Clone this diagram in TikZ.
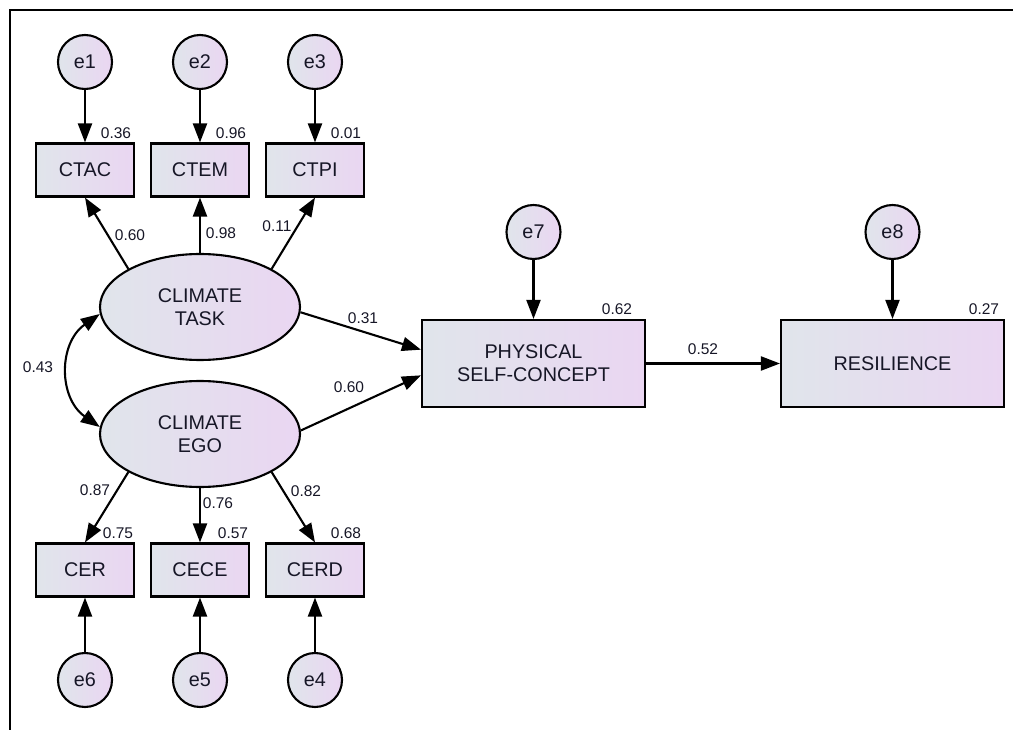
\documentclass[tikz,border=0pt]{standalone}
\usepackage{fontspec}
\setmainfont{Liberation Sans}
\usetikzlibrary{shapes.geometric,arrows.meta}
\definecolor{gL}{RGB}{224,229,235}
\definecolor{gR}{RGB}{234,214,242}
\definecolor{txt}{RGB}{22,22,38}
\begin{document}
\begin{tikzpicture}[x=1pt,y=-1pt,
  fillgrad/.style={left color=gL, right color=gR},
  nfont/.style={font=\fontsize{19.8}{23}\selectfont, text=txt},
  obs/.style={draw, line width=2.1pt, fillgrad, rectangle, inner sep=0pt, minimum width=98pt, minimum height=53pt, nfont},
  big/.style={obs, minimum width=223pt, minimum height=87pt, align=center},
  lat/.style={draw, ellipse, line width=2.1pt, fillgrad, inner sep=0pt, minimum width=200pt, minimum height=106pt, align=center, nfont},
  err/.style={draw, circle, line width=2.1pt, fillgrad, inner sep=0pt, minimum size=54pt, nfont},
  arr/.style={line width=2.1pt, -{Triangle[length=19pt,width=14pt]}},
  darr/.style={line width=2.1pt, {Triangle[length=19pt,width=14pt]}-{Triangle[length=19pt,width=14pt]}},
  num/.style={font=\fontsize{15.5}{17}\selectfont, text=txt, inner sep=0pt}
]
\useasboundingbox (0,0) rectangle (1013,730);
\draw[line width=1.8pt] (10,730) -- (10,10) -- (1013,10);

% error terms top
\node[err] (e1) at (85,62) {e1};
\node[err] (e2) at (200,62) {e2};
\node[err] (e3) at (315,62) {e3};
% indicators top
\node[obs] (ctac) at (85,170) {CTAC};
\node[obs] (ctem) at (200,170) {CTEM};
\node[obs] (ctpi) at (315,170) {CTPI};
% latent
\node[lat] (task) at (200,307) {CLIMATE\\TASK};
\node[lat] (ego) at (200,434) {CLIMATE\\EGO};
% indicators bottom
\node[obs] (cer) at (85,570) {CER};
\node[obs] (cece) at (200,570) {CECE};
\node[obs] (cerd) at (315,570) {CERD};
\node[err] (e6) at (85,680) {e6};
\node[err] (e5) at (200,680) {e5};
\node[err] (e4) at (315,680) {e4};
% outcomes
\node[big] (psc) at (533.5,363.5) {PHYSICAL\\SELF-CONCEPT};
\node[big] (res) at (892.5,363.5) {RESILIENCE};
\node[err] (e7) at (533.5,232) {e7};
\node[err] (e8) at (892.5,232) {e8};

% connectors
\draw[arr] (e1) -- (ctac);
\draw[arr] (e2) -- (ctem);
\draw[arr] (e3) -- (ctpi);
\draw[arr] (task.152) -- (ctac.south);
\draw[arr] (task.north) -- (ctem.south);
\draw[arr] (task.28) -- (ctpi.south);
\draw[arr] (ego.208) -- (cer.north);
\draw[arr] (ego.south) -- (cece.north);
\draw[arr] (ego.332) -- (cerd.north);
\draw[arr] (e6) -- (cer);
\draw[arr] (e5) -- (cece);
\draw[arr] (e4) -- (cerd);
\draw[darr] (task.184) to[bend right=55, looseness=1.15] (ego.176);
\draw[arr] (task.357) -- (psc.173);
\draw[arr] (ego.2) -- (psc.186);
\draw[arr] (e7) -- (psc);
\draw[arr] (e8) -- (res);
\draw[arr] (psc.east) -- (res.west);

% labels
\node[num] (n1) at (116,133) {0.36};
\node[num] (n2) at (231,133) {0.96};
\node[num] (n3) at (346,133) {0.01};
\node[num] (n4) at (130,235) {0.60};
\node[num] (n5) at (221,233) {0.98};
\node[num] (n6) at (277,226) {0.11};
\node[num] (n7) at (38,367) {0.43};
\node[num] (n8) at (363,318) {0.31};
\node[num] (n9) at (349,387) {0.60};
\node[num] (n10) at (617,309) {0.62};
\node[num] (n11) at (984,309) {0.27};
\node[num] (n12) at (703,349) {0.52};
\node[num] (n13) at (95,490) {0.87};
\node[num] (n14) at (218,503) {0.76};
\node[num] (n15) at (306,491) {0.82};
\node[num] (n16) at (118,533) {0.75};
\node[num] (n17) at (233,533) {0.57};
\node[num] (n18) at (346,533) {0.68};
\end{tikzpicture}
\end{document}
